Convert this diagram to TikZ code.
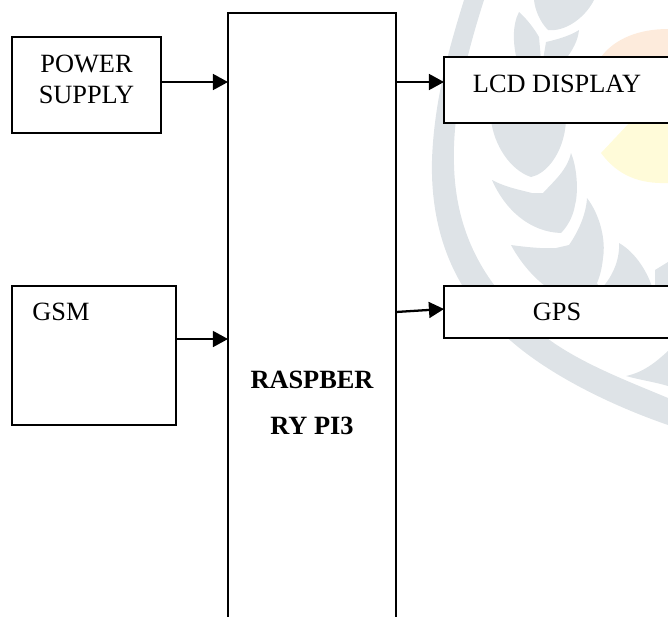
\documentclass[tikz,border=0pt]{standalone}
\usepackage{fontspec}
\setmainfont{Liberation Serif}
\usepackage{xcolor}
\usepackage{tikz}
\usetikzlibrary{arrows.meta,positioning}
\definecolor{markgray}{HTML}{DEE3E7}
\definecolor{markorange}{HTML}{FDEBDC}
\definecolor{markyellow}{HTML}{FFFBD9}
\tikzset{
    blockbox/.style={draw, fill=white, line width=0.9pt, inner sep=0pt, outer sep=0pt, align=center,
        font=\fontsize{15}{17.6}\selectfont},
    flow/.style={-{Triangle[length=8.6pt,width=9pt]}, line width=1.3pt, black}
}
\begin{document}
\begin{tikzpicture}[x=0.02cm, y=-0.02cm]
    \useasboundingbox (0,0) rectangle (668,616);
    % faint mark behind the blocks
    \fill[markorange] (601,57) .. controls (615,38) and (640,29) .. (668,29) -- (668,60) -- (601,60) -- cycle;
    \fill[markyellow] (632,120) -- (668,120) -- (668,183) .. controls (640,184) and (618,176) .. (601,153) -- cycle;
    \fill[markgray] (464,0) -- (484,0) .. controls (468,50) and (452,110) .. (454,165)
        .. controls (456,240) and (490,295) .. (551,341) .. controls (585,365) and (630,382) .. (668,398)
        -- (668,425) .. controls (610,405) and (550,375) .. (511,341)
        .. controls (460,300) and (430,240) .. (432,160) .. controls (434,100) and (450,45) .. (464,0) -- cycle;
    \fill[markgray] (534,0) -- (594,0) .. controls (585,18) and (565,32) .. (548,30) .. controls (540,22) and (535,10) .. (534,0) -- cycle;
    \fill[markgray] (519,12) .. controls (528,20) and (535,30) .. (539,37) -- (541,60) -- (517,60) .. controls (513,45) and (512,25) .. (519,12) -- cycle;
    \fill[markgray] (579,30) .. controls (570,36) and (555,40) .. (546,42) -- (543,60) -- (565,60) .. controls (573,50) and (578,40) .. (579,30) -- cycle;
    \fill[markgray] (491,120) -- (566,120) .. controls (565,145) and (553,167) .. (537,175) -- (531,177)
        .. controls (510,170) and (494,145) .. (491,120) -- cycle;
    \fill[markgray] (492,180) .. controls (505,187) and (520,190) .. (532,193) -- (535,193) -- (543,193)
        .. controls (555,180) and (567,170) .. (571,153) .. controls (578,170) and (578,195) .. (575,205)
        .. controls (573,218) and (566,228) .. (561,233) .. controls (530,232) and (505,210) .. (492,180) -- cycle;
    \fill[markgray] (511,245) .. controls (525,247) and (545,249) .. (556,248) -- (569,245)
        .. controls (578,232) and (586,215) .. (587,198) .. controls (600,215) and (606,240) .. (603,258)
        .. controls (602,268) and (600,276) .. (597,283) -- (600,290) -- (551,290)
        .. controls (535,280) and (520,262) .. (511,245) -- cycle;
    \fill[markgray] (619,243) .. controls (635,252) and (648,272) .. (653,290) -- (600,290)
        .. controls (612,278) and (620,260) .. (619,243) -- cycle;
    \fill[markgray] (626,376) .. controls (645,372) and (658,360) .. (668,351) -- (668,386) .. controls (655,382) and (640,380) .. (626,376) -- cycle;
    \fill[markgray] (655,270) -- (668,262) -- (668,290) -- (655,290) -- cycle;
    % blocks
    \node[blockbox, minimum width=2.98cm, minimum height=1.92cm] (power) at (86.5,85)
        {POWER\\SUPPLY\rule[-0.22cm]{0pt}{0pt}};
    \node[blockbox, minimum width=3.28cm, minimum height=2.78cm] (gsm) at (94,355.5) {};
    \node[blockbox, draw=none, fill=none] (gsmlabel) at (61,312) {GSM};
    \node[blockbox, minimum width=3.36cm, minimum height=15.6cm,
        font=\fontsize{15}{26}\selectfont\bfseries] (main) at (312,403) {RASPBER\\RY PI3};
    \node[blockbox, minimum width=4.52cm, minimum height=1.32cm] (lcd) at (557,90)
        {LCD DISPLAY\rule[-0.24cm]{0pt}{0pt}};
    \node[blockbox, minimum width=4.52cm, minimum height=1.04cm] (gps) at (557,312) {GPS};
    % arrows
    \draw[flow] ([yshift=0.06cm]power.east) -- ([yshift=0.06cm]power.east -| main.west);
    \draw[flow] ([yshift=0.33cm]gsm.east) -- ([yshift=0.33cm]gsm.east -| main.west);
    \draw[flow] ([yshift=0.16cm]lcd.west -| main.east) -- ([yshift=0.16cm]lcd.west);
    \draw[flow] (gps.west -| main.east) -- ([yshift=0.06cm]gps.west);
\end{tikzpicture}
\end{document}
